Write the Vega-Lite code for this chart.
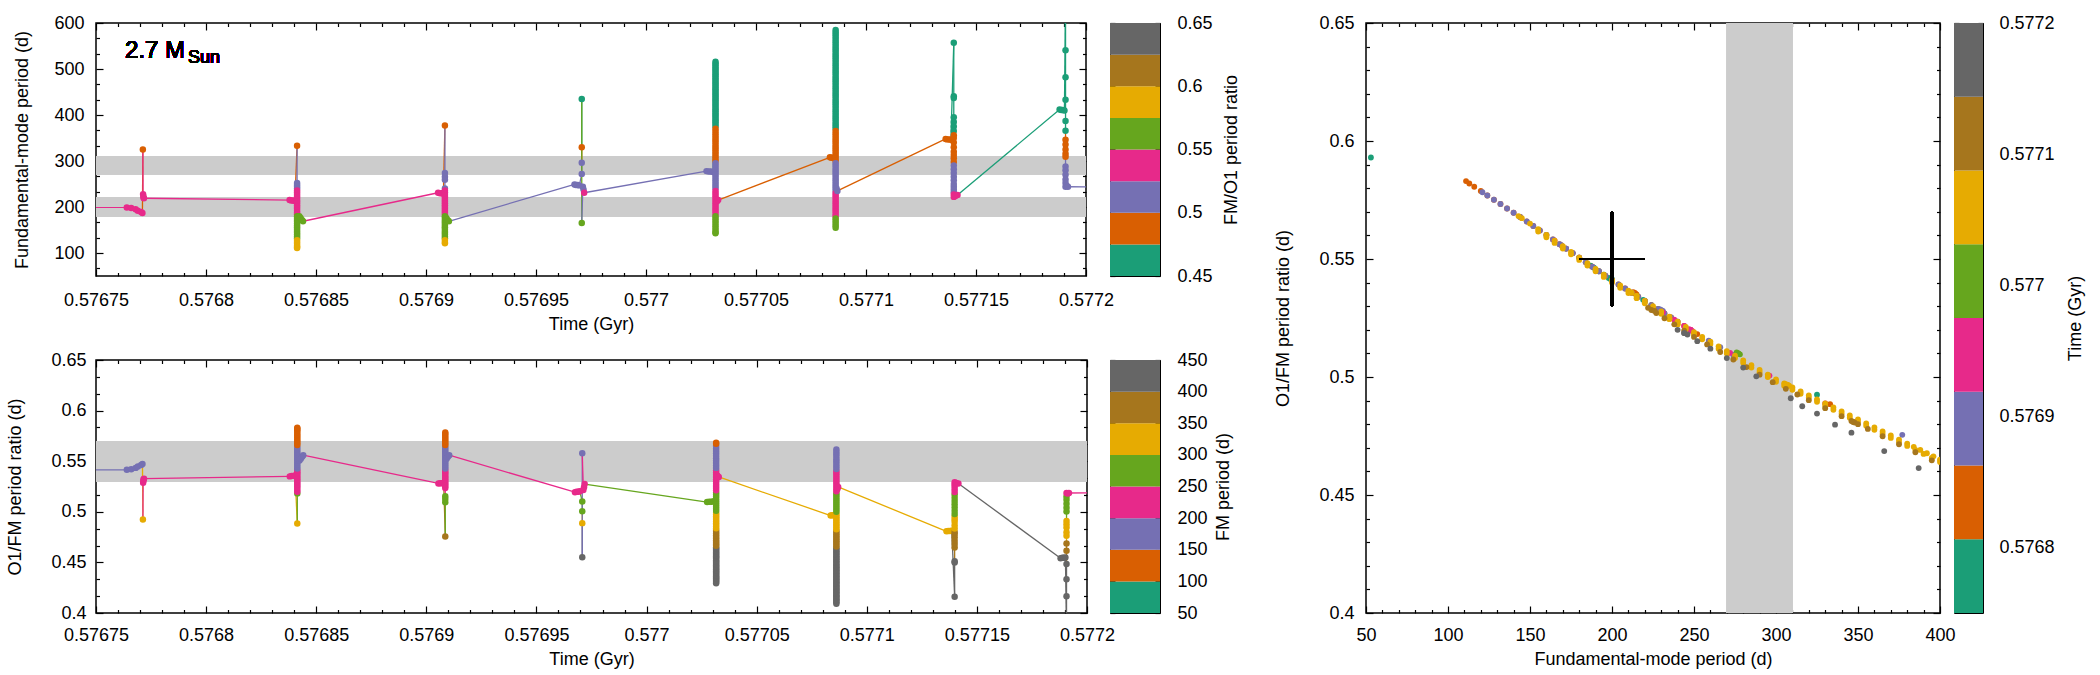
{
  "$schema": "https://vega.github.io/schema/vega-lite/v6.json",
  "background": "white",
  "padding": {"left": 6, "top": 13, "right": 5, "bottom": 2},
  "config": {
    "view": {"stroke": null},
    "font": "Liberation Sans",
    "axis": {
      "labelFont": "Liberation Sans", "labelFontSize": 18, "labelColor": "black",
      "titleFont": "Liberation Sans", "titleFontSize": 18, "titleFontWeight": "normal", "titleColor": "black",
      "tickColor": "black", "tickWidth": 1.2, "tickSize": -7,
      "domain": false, "grid": false, "labelFlush": false, "labelOverlap": false, "format": ".6~g"
    }
  },
  "datasets": {
    "model": [
      {"t":0.57664,"P":53,"r":0.593},{"t":0.57672,"P":200,"r":0.5415},
      {"t":0.576764,"P":199,"r":0.5415},{"t":0.576766,"P":198,"r":0.542},{"t":0.576768,"P":195,"r":0.5434},{"t":0.576769,"P":192,"r":0.5448},{"t":0.5767705,"P":189,"r":0.5463},
      {"t":0.5767711,"P":187,"r":0.5472},{"t":0.5767713,"P":325,"r":0.4925},{"t":0.5767714,"P":228,"r":0.5287},{"t":0.5767715,"P":224,"r":0.5304},{"t":0.5767716,"P":220,"r":0.5322},{"t":0.5767718,"P":219,"r":0.5327},
      {"t":0.576838,"P":215,"r":0.535},{"t":0.5768388,"P":214,"r":0.5355},{"t":0.5768396,"P":214,"r":0.5355},{"t":0.5768404,"P":213,"r":0.5359},
      {"t":0.5768414,"P":333,"r":0.4885},{"t":0.5768414,"P":252,"r":0.5182},{"t":0.5768414,"P":248,"r":0.5199},{"t":0.5768414,"P":244,"r":0.5216},{"t":0.5768414,"P":240,"r":0.5234},{"t":0.5768414,"P":236,"r":0.5252},{"t":0.5768414,"P":232,"r":0.5269},{"t":0.5768414,"P":228,"r":0.5287},{"t":0.5768414,"P":224,"r":0.5304},{"t":0.5768414,"P":220,"r":0.5322},{"t":0.5768414,"P":216,"r":0.534},{"t":0.5768414,"P":212,"r":0.5357},{"t":0.5768414,"P":208,"r":0.5375},{"t":0.5768414,"P":204,"r":0.5392},{"t":0.5768414,"P":200,"r":0.541},{"t":0.5768414,"P":196,"r":0.5429},{"t":0.5768414,"P":192,"r":0.5448},{"t":0.5768414,"P":188,"r":0.5467},{"t":0.5768414,"P":184,"r":0.5486},{"t":0.5768414,"P":180,"r":0.5506},{"t":0.5768414,"P":176,"r":0.5525},{"t":0.5768414,"P":172,"r":0.5544},{"t":0.5768414,"P":168,"r":0.5563},{"t":0.5768414,"P":164,"r":0.5583},{"t":0.5768414,"P":160,"r":0.5602},{"t":0.5768414,"P":156,"r":0.5621},{"t":0.5768414,"P":152,"r":0.564},{"t":0.5768414,"P":148,"r":0.5659},{"t":0.5768414,"P":144,"r":0.5678},{"t":0.5768414,"P":140,"r":0.5696},{"t":0.5768414,"P":136,"r":0.5714},{"t":0.5768414,"P":132,"r":0.5733},{"t":0.5768414,"P":128,"r":0.5751},{"t":0.5768414,"P":124,"r":0.5769},{"t":0.5768414,"P":120,"r":0.5788},{"t":0.5768414,"P":116,"r":0.5806},{"t":0.5768414,"P":113,"r":0.582},{"t":0.5768414,"P":111,"r":0.583},
      {"t":0.5768424,"P":180,"r":0.5506},{"t":0.576843,"P":176,"r":0.5525},{"t":0.5768436,"P":172,"r":0.5544},{"t":0.5768441,"P":169,"r":0.5559},
      {"t":0.5769055,"P":231,"r":0.528},{"t":0.5769063,"P":230,"r":0.5283},{"t":0.5769071,"P":230,"r":0.5283},{"t":0.5769079,"P":229,"r":0.5287},
      {"t":0.5769086,"P":377,"r":0.4755},{"t":0.5769086,"P":274,"r":0.5094},{"t":0.5769086,"P":266,"r":0.5126},{"t":0.5769086,"P":259,"r":0.5154},{"t":0.5769086,"P":240,"r":0.5234},{"t":0.5769086,"P":236,"r":0.5252},{"t":0.5769086,"P":232,"r":0.5269},{"t":0.5769086,"P":228,"r":0.5287},{"t":0.5769086,"P":224,"r":0.5304},{"t":0.5769086,"P":220,"r":0.5322},{"t":0.5769086,"P":216,"r":0.534},{"t":0.5769086,"P":212,"r":0.5357},{"t":0.5769086,"P":208,"r":0.5375},{"t":0.5769086,"P":204,"r":0.5392},{"t":0.5769086,"P":200,"r":0.541},{"t":0.5769086,"P":196,"r":0.5429},{"t":0.5769086,"P":192,"r":0.5448},{"t":0.5769086,"P":188,"r":0.5467},{"t":0.5769086,"P":184,"r":0.5486},{"t":0.5769086,"P":180,"r":0.5506},{"t":0.5769086,"P":176,"r":0.5525},{"t":0.5769086,"P":172,"r":0.5544},{"t":0.5769086,"P":168,"r":0.5563},{"t":0.5769086,"P":164,"r":0.5583},{"t":0.5769086,"P":160,"r":0.5602},{"t":0.5769086,"P":156,"r":0.5621},{"t":0.5769086,"P":152,"r":0.564},{"t":0.5769086,"P":148,"r":0.5659},{"t":0.5769086,"P":144,"r":0.5678},{"t":0.5769086,"P":140,"r":0.5696},{"t":0.5769086,"P":136,"r":0.5714},{"t":0.5769086,"P":132,"r":0.5733},{"t":0.5769086,"P":128,"r":0.5751},{"t":0.5769086,"P":124,"r":0.5769},{"t":0.5769086,"P":121,"r":0.5783},
      {"t":0.5769092,"P":176,"r":0.5525},{"t":0.5769098,"P":172,"r":0.5544},{"t":0.5769104,"P":169,"r":0.5559},
      {"t":0.5769675,"P":249,"r":0.5194},{"t":0.5769682,"P":248,"r":0.5199},{"t":0.576969,"P":248,"r":0.5199},{"t":0.5769697,"P":247,"r":0.5203},
      {"t":0.5769708,"P":272,"r":0.5102},{"t":0.5769708,"P":296,"r":0.5006},{"t":0.5769708,"P":330,"r":0.4888},{"t":0.5769708,"P":435,"r":0.455},{"t":0.5769708,"P":165,"r":0.5578},
      {"t":0.5769713,"P":244,"r":0.5216},{"t":0.5769716,"P":238,"r":0.5243},{"t":0.5769719,"P":231,"r":0.5274},
      {"t":0.5770275,"P":278,"r":0.5096},{"t":0.5770285,"P":277,"r":0.51},{"t":0.5770295,"P":277,"r":0.51},{"t":0.5770305,"P":276,"r":0.5104},
      {"t":0.5770316,"P":516,"r":0.4295},{"t":0.5770316,"P":512,"r":0.4306},{"t":0.5770316,"P":508,"r":0.4318},{"t":0.5770316,"P":504,"r":0.4329},{"t":0.5770316,"P":500,"r":0.434},{"t":0.5770316,"P":496,"r":0.4352},{"t":0.5770316,"P":492,"r":0.4364},{"t":0.5770316,"P":488,"r":0.4376},{"t":0.5770316,"P":484,"r":0.4388},{"t":0.5770316,"P":480,"r":0.44},{"t":0.5770316,"P":476,"r":0.4412},{"t":0.5770316,"P":472,"r":0.4424},{"t":0.5770316,"P":468,"r":0.4436},{"t":0.5770316,"P":464,"r":0.4448},{"t":0.5770316,"P":460,"r":0.446},{"t":0.5770316,"P":456,"r":0.4472},{"t":0.5770316,"P":452,"r":0.4484},{"t":0.5770316,"P":448,"r":0.4496},{"t":0.5770316,"P":444,"r":0.4509},{"t":0.5770316,"P":440,"r":0.4522},{"t":0.5770316,"P":436,"r":0.4535},{"t":0.5770316,"P":432,"r":0.4548},{"t":0.5770316,"P":428,"r":0.456},{"t":0.5770316,"P":424,"r":0.4573},{"t":0.5770316,"P":420,"r":0.4586},{"t":0.5770316,"P":416,"r":0.4599},{"t":0.5770316,"P":412,"r":0.4612},{"t":0.5770316,"P":408,"r":0.4624},{"t":0.5770316,"P":404,"r":0.4637},{"t":0.5770316,"P":400,"r":0.465},{"t":0.5770316,"P":396,"r":0.4664},{"t":0.5770316,"P":392,"r":0.4677},{"t":0.5770316,"P":388,"r":0.4691},{"t":0.5770316,"P":384,"r":0.4704},{"t":0.5770316,"P":380,"r":0.4718},
      {"t":0.5770316,"P":375,"r":0.4735},{"t":0.5770316,"P":370,"r":0.4752},{"t":0.5770316,"P":365,"r":0.4769},{"t":0.5770316,"P":360,"r":0.4786},{"t":0.5770316,"P":355,"r":0.4803},{"t":0.5770316,"P":350,"r":0.482},{"t":0.5770316,"P":345,"r":0.4837},{"t":0.5770316,"P":340,"r":0.4854},{"t":0.5770316,"P":335,"r":0.4871},{"t":0.5770316,"P":330,"r":0.4888},{"t":0.5770316,"P":325,"r":0.4905},{"t":0.5770316,"P":320,"r":0.4922},{"t":0.5770316,"P":315,"r":0.4939},{"t":0.5770316,"P":310,"r":0.4956},{"t":0.5770316,"P":305,"r":0.4973},{"t":0.5770316,"P":300,"r":0.499},{"t":0.5770316,"P":295,"r":0.501},{"t":0.5770316,"P":290,"r":0.503},{"t":0.5770316,"P":285,"r":0.505},{"t":0.5770316,"P":280,"r":0.507},{"t":0.5770316,"P":275,"r":0.509},{"t":0.5770316,"P":270,"r":0.511},{"t":0.5770316,"P":265,"r":0.513},{"t":0.5770316,"P":260,"r":0.515},{"t":0.5770316,"P":255,"r":0.517},{"t":0.5770316,"P":250,"r":0.519},{"t":0.5770316,"P":245,"r":0.5212},{"t":0.5770316,"P":240,"r":0.5234},{"t":0.5770316,"P":235,"r":0.5256},{"t":0.5770316,"P":230,"r":0.5278},{"t":0.5770316,"P":225,"r":0.53},{"t":0.5770316,"P":220,"r":0.5322},{"t":0.5770316,"P":215,"r":0.5344},{"t":0.5770316,"P":210,"r":0.5366},{"t":0.5770316,"P":205,"r":0.5388},{"t":0.5770316,"P":200,"r":0.541},{"t":0.5770316,"P":195,"r":0.5434},{"t":0.5770316,"P":190,"r":0.5458},{"t":0.5770316,"P":185,"r":0.5482},{"t":0.5770316,"P":180,"r":0.5506},{"t":0.5770316,"P":175,"r":0.553},{"t":0.5770316,"P":170,"r":0.5554},{"t":0.5770316,"P":165,"r":0.5578},{"t":0.5770316,"P":160,"r":0.5602},{"t":0.5770316,"P":155,"r":0.5626},{"t":0.5770316,"P":150,"r":0.565},{"t":0.5770316,"P":145,"r":0.5673},{"t":0.5770316,"P":143,"r":0.5682},
      {"t":0.5770322,"P":212,"r":0.5357},{"t":0.5770328,"P":215,"r":0.5344},
      {"t":0.5770836,"P":308,"r":0.4963},{"t":0.5770843,"P":307,"r":0.4966},{"t":0.577085,"P":307,"r":0.4966},{"t":0.5770856,"P":306,"r":0.497},
      {"t":0.5770862,"P":585,"r":0.4092},{"t":0.5770862,"P":580,"r":0.4106},{"t":0.5770862,"P":575,"r":0.412},{"t":0.5770862,"P":570,"r":0.4134},{"t":0.5770862,"P":565,"r":0.4148},{"t":0.5770862,"P":560,"r":0.4162},{"t":0.5770862,"P":555,"r":0.4176},{"t":0.5770862,"P":550,"r":0.419},{"t":0.5770862,"P":545,"r":0.4204},{"t":0.5770862,"P":540,"r":0.4218},{"t":0.5770862,"P":535,"r":0.4232},{"t":0.5770862,"P":530,"r":0.4246},{"t":0.5770862,"P":525,"r":0.426},{"t":0.5770862,"P":520,"r":0.4274},{"t":0.5770862,"P":515,"r":0.4288},{"t":0.5770862,"P":510,"r":0.4302},{"t":0.5770862,"P":505,"r":0.4316},{"t":0.5770862,"P":500,"r":0.433},{"t":0.5770862,"P":495,"r":0.4345},{"t":0.5770862,"P":490,"r":0.436},{"t":0.5770862,"P":485,"r":0.4375},{"t":0.5770862,"P":480,"r":0.439},{"t":0.5770862,"P":475,"r":0.4405},{"t":0.5770862,"P":470,"r":0.442},{"t":0.5770862,"P":465,"r":0.4435},{"t":0.5770862,"P":460,"r":0.445},{"t":0.5770862,"P":455,"r":0.4465},{"t":0.5770862,"P":450,"r":0.448},{"t":0.5770862,"P":445,"r":0.4496},{"t":0.5770862,"P":440,"r":0.4512},{"t":0.5770862,"P":435,"r":0.4528},{"t":0.5770862,"P":430,"r":0.4544},{"t":0.5770862,"P":425,"r":0.456},{"t":0.5770862,"P":420,"r":0.4576},{"t":0.5770862,"P":415,"r":0.4592},{"t":0.5770862,"P":410,"r":0.4608},{"t":0.5770862,"P":405,"r":0.4624},{"t":0.5770862,"P":400,"r":0.464},{"t":0.5770862,"P":395,"r":0.4657},{"t":0.5770862,"P":390,"r":0.4674},{"t":0.5770862,"P":385,"r":0.4691},
      {"t":0.5770862,"P":380,"r":0.4708},{"t":0.5770862,"P":375,"r":0.4725},{"t":0.5770862,"P":370,"r":0.4742},{"t":0.5770862,"P":365,"r":0.4759},{"t":0.5770862,"P":360,"r":0.4776},{"t":0.5770862,"P":355,"r":0.4793},{"t":0.5770862,"P":350,"r":0.481},{"t":0.5770862,"P":345,"r":0.4827},{"t":0.5770862,"P":340,"r":0.4844},{"t":0.5770862,"P":335,"r":0.4861},{"t":0.5770862,"P":330,"r":0.4878},{"t":0.5770862,"P":325,"r":0.4895},{"t":0.5770862,"P":320,"r":0.4912},{"t":0.5770862,"P":315,"r":0.4929},{"t":0.5770862,"P":310,"r":0.4946},{"t":0.5770862,"P":305,"r":0.4963},{"t":0.5770862,"P":300,"r":0.498},{"t":0.5770862,"P":295,"r":0.5},{"t":0.5770862,"P":290,"r":0.502},{"t":0.5770862,"P":285,"r":0.504},{"t":0.5770862,"P":280,"r":0.506},{"t":0.5770862,"P":275,"r":0.508},{"t":0.5770862,"P":270,"r":0.51},{"t":0.5770862,"P":265,"r":0.512},{"t":0.5770862,"P":260,"r":0.514},{"t":0.5770862,"P":255,"r":0.516},{"t":0.5770862,"P":250,"r":0.518},{"t":0.5770862,"P":245,"r":0.5202},{"t":0.5770862,"P":240,"r":0.5224},{"t":0.5770862,"P":235,"r":0.5246},{"t":0.5770862,"P":230,"r":0.5268},{"t":0.5770862,"P":225,"r":0.529},{"t":0.5770862,"P":220,"r":0.5312},{"t":0.5770862,"P":215,"r":0.5334},{"t":0.5770862,"P":210,"r":0.5356},{"t":0.5770862,"P":205,"r":0.5378},{"t":0.5770862,"P":200,"r":0.54},{"t":0.5770862,"P":195,"r":0.5424},{"t":0.5770862,"P":190,"r":0.5448},{"t":0.5770862,"P":185,"r":0.5472},{"t":0.5770862,"P":180,"r":0.5496},{"t":0.5770862,"P":175,"r":0.552},{"t":0.5770862,"P":170,"r":0.5544},{"t":0.5770862,"P":165,"r":0.5568},{"t":0.5770862,"P":160,"r":0.5592},{"t":0.5770862,"P":155,"r":0.5616},
      {"t":0.5770866,"P":240,"r":0.5224},{"t":0.577087,"P":235,"r":0.5246},
      {"t":0.5771362,"P":348,"r":0.4807},{"t":0.577137,"P":347,"r":0.481},{"t":0.5771378,"P":347,"r":0.481},{"t":0.5771386,"P":346,"r":0.4814},
      {"t":0.5771399,"P":557,"r":0.416},{"t":0.5771399,"P":441,"r":0.4499},{"t":0.5771399,"P":437,"r":0.4512},{"t":0.5771399,"P":395,"r":0.4647},{"t":0.5771399,"P":385,"r":0.4681},{"t":0.5771399,"P":375,"r":0.4715},{"t":0.5771399,"P":365,"r":0.4749},{"t":0.5771399,"P":356,"r":0.478},{"t":0.5771399,"P":350,"r":0.48},{"t":0.5771399,"P":340,"r":0.4834},{"t":0.5771399,"P":330,"r":0.4868},{"t":0.5771399,"P":320,"r":0.4902},{"t":0.5771399,"P":313,"r":0.4926},{"t":0.5771399,"P":306,"r":0.495},{"t":0.5771399,"P":298,"r":0.4978},{"t":0.5771399,"P":290,"r":0.501},{"t":0.5771399,"P":282,"r":0.5042},{"t":0.5771399,"P":274,"r":0.5074},{"t":0.5771399,"P":266,"r":0.5106},{"t":0.5771399,"P":258,"r":0.5138},{"t":0.5771399,"P":250,"r":0.517},{"t":0.5771399,"P":244,"r":0.5196},{"t":0.5771399,"P":238,"r":0.5223},{"t":0.5771399,"P":232,"r":0.5249},{"t":0.5771399,"P":227,"r":0.5271},{"t":0.5771399,"P":222,"r":0.5293},
      {"t":0.5771406,"P":224,"r":0.5284},{"t":0.5771416,"P":226,"r":0.528},
      {"t":0.577188,"P":412,"r":0.4541},{"t":0.5771888,"P":411,"r":0.4545},{"t":0.5771895,"P":411,"r":0.4545},{"t":0.5771902,"P":410,"r":0.4548},
      {"t":0.5771907,"P":660,"r":0.3832},{"t":0.5771907,"P":541,"r":0.4165},{"t":0.5771907,"P":482,"r":0.4334},{"t":0.5771907,"P":433,"r":0.4484},{"t":0.5771907,"P":387,"r":0.4614},{"t":0.5771907,"P":366,"r":0.4686},{"t":0.5771907,"P":346,"r":0.4764},{"t":0.5771907,"P":336,"r":0.4798},{"t":0.5771907,"P":325,"r":0.4845},{"t":0.5771907,"P":316,"r":0.4876},{"t":0.5771907,"P":309,"r":0.491},{"t":0.5771907,"P":288,"r":0.5003},{"t":0.5771907,"P":280,"r":0.504},{"t":0.5771907,"P":270,"r":0.508},{"t":0.5771907,"P":260,"r":0.512},{"t":0.5771907,"P":252,"r":0.5152},{"t":0.5771907,"P":244,"r":0.5186},
      {"t":0.5771912,"P":246,"r":0.518},{"t":0.5771918,"P":244,"r":0.5186},{"t":0.5773,"P":240,"r":0.52}
    ],
    "cbRatio": [
      {"lo":0.45,"hi":0.475,"k":0},{"lo":0.475,"hi":0.5,"k":1},{"lo":0.5,"hi":0.525,"k":2},{"lo":0.525,"hi":0.55,"k":3},
      {"lo":0.55,"hi":0.575,"k":4},{"lo":0.575,"hi":0.6,"k":5},{"lo":0.6,"hi":0.625,"k":6},{"lo":0.625,"hi":0.65,"k":7}
    ],
    "cbPeriod": [
      {"lo":50,"hi":100,"k":0},{"lo":100,"hi":150,"k":1},{"lo":150,"hi":200,"k":2},{"lo":200,"hi":250,"k":3},
      {"lo":250,"hi":300,"k":4},{"lo":300,"hi":350,"k":5},{"lo":350,"hi":400,"k":6},{"lo":400,"hi":450,"k":7}
    ],
    "cbTime": [
      {"lo":0.57675,"hi":0.57680625,"k":0},{"lo":0.57680625,"hi":0.5768625,"k":1},{"lo":0.5768625,"hi":0.57691875,"k":2},{"lo":0.57691875,"hi":0.576975,"k":3},
      {"lo":0.576975,"hi":0.57703125,"k":4},{"lo":0.57703125,"hi":0.5770875,"k":5},{"lo":0.5770875,"hi":0.57714375,"k":6},{"lo":0.57714375,"hi":0.5772,"k":7}
    ]
  },
  "spacing": 33,
  "resolve": {"scale": {"color": "independent"}},
  "hconcat": [
    {
      "spacing": 16,
      "resolve": {"scale": {"color": "independent"}},
      "vconcat": [
        {
          "spacing": 24,
          "bounds": "flush",
          "resolve": {"scale": {"color": "independent"}},
          "hconcat": [
            {
              "width": 990, "height": 253,
              "view": {"stroke": "black", "strokeWidth": 1.5},
              "data": {"name": "model"},
              "layer": [
                {"mark": {"type": "rect", "color": "#cccccc"},
                 "encoding": {"x": {"datum": 0.57675, "type": "quantitative", "axis": null}, "x2": {"datum": 0.5772},
                              "y": {"datum": 270, "type": "quantitative", "scale": {"domain": [50, 600], "nice": false, "zero": false}, "axis": null}, "y2": {"datum": 310}}},
                {"mark": {"type": "rect", "color": "#cccccc"},
                 "encoding": {"x": {"datum": 0.57675, "type": "quantitative", "axis": null}, "x2": {"datum": 0.5772},
                              "y": {"datum": 180, "type": "quantitative", "axis": null}, "y2": {"datum": 220}}},
                {"transform": [{"window": [{"op": "lag", "field": "t", "as": "t0"}, {"op": "lag", "field": "P", "as": "P0"}]}, {"filter": "datum.t0 != null"}],
                 "mark": {"type": "rule", "strokeWidth": 1.3, "clip": true},
                 "encoding": {
                   "x": {"field": "t0", "type": "quantitative", "scale": {"domain": [0.57675, 0.5772], "nice": false, "zero": false},
                         "axis": {"orient": "bottom", "title": "Time (Gyr)", "labelPadding": 22, "titlePadding": 6,
                                  "values": [0.57675,0.57676,0.57677,0.57678,0.57679,0.5768,0.57681,0.57682,0.57683,0.57684,0.57685,0.57686,0.57687,0.57688,0.57689,0.5769,0.57691,0.57692,0.57693,0.57694,0.57695,0.57696,0.57697,0.57698,0.57699,0.577,0.57701,0.57702,0.57703,0.57704,0.57705,0.57706,0.57707,0.57708,0.57709,0.5771,0.57711,0.57712,0.57713,0.57714,0.57715,0.57716,0.57717,0.57718,0.57719,0.5772],
                                  "labelExpr": "abs(datum.value*20000-round(datum.value*20000))<0.01 ? datum.label : ''",
                                  "encoding": {"ticks": {"y2": {"condition": {"test": "abs(datum.value*20000-round(datum.value*20000))<0.01", "value": -7}, "value": -3.5}}}}},
                   "x2": {"field": "t"},
                   "y": {"field": "P0", "type": "quantitative",
                         "axis": {"orient": "left", "title": "Fundamental-mode period (d)", "labelPadding": 19, "titlePadding": 22,
                                  "values": [66.667,100,133.333,166.667,200,233.333,266.667,300,333.333,366.667,400,433.333,466.667,500,533.333,566.667,600],
                                  "labelExpr": "abs(datum.value/100-round(datum.value/100))<0.001 ? datum.label : ''",
                                  "encoding": {"ticks": {"x2": {"condition": {"test": "abs(datum.value/100-round(datum.value/100))<0.001", "value": 7}, "value": 3.5}}}}},
                   "y2": {"field": "P"},
                   "color": {"field": "r", "type": "quantitative", "legend": null,
                             "scale": {"type": "threshold", "domain": [0.475,0.5,0.525,0.55,0.575,0.6,0.625], "range": ["#1b9e77","#d95f02","#7570b3","#e7298a","#66a61e","#e6ab02","#a6761d","#666666"]}}
                 }},
                {"mark": {"type": "circle", "size": 42, "opacity": 1, "clip": true},
                 "encoding": {
                   "x": {"field": "t", "type": "quantitative",
                         "axis": {"orient": "top", "title": null, "labels": false,
                                  "values": [0.57675,0.57676,0.57677,0.57678,0.57679,0.5768,0.57681,0.57682,0.57683,0.57684,0.57685,0.57686,0.57687,0.57688,0.57689,0.5769,0.57691,0.57692,0.57693,0.57694,0.57695,0.57696,0.57697,0.57698,0.57699,0.577,0.57701,0.57702,0.57703,0.57704,0.57705,0.57706,0.57707,0.57708,0.57709,0.5771,0.57711,0.57712,0.57713,0.57714,0.57715,0.57716,0.57717,0.57718,0.57719,0.5772],
                                  "encoding": {"ticks": {"y2": {"condition": {"test": "abs(datum.value*20000-round(datum.value*20000))<0.01", "value": 7}, "value": 3.5}}}}},
                   "y": {"field": "P", "type": "quantitative",
                         "axis": {"orient": "right", "title": null, "labels": false,
                                  "values": [66.667,100,133.333,166.667,200,233.333,266.667,300,333.333,366.667,400,433.333,466.667,500,533.333,566.667,600],
                                  "encoding": {"ticks": {"x2": {"condition": {"test": "abs(datum.value/100-round(datum.value/100))<0.001", "value": -7}, "value": -3.5}}}}},
                   "color": {"field": "r", "type": "quantitative", "legend": null,
                             "scale": {"type": "threshold", "domain": [0.475,0.5,0.525,0.55,0.575,0.6,0.625], "range": ["#1b9e77","#d95f02","#7570b3","#e7298a","#66a61e","#e6ab02","#a6761d","#666666"]}}
                 }},
                {"mark": {"type": "text", "text": "2.7 M", "align": "left", "baseline": "alphabetic", "fontSize": 24, "font": "Liberation Sans", "color": "black"},
                 "encoding": {"x": {"datum": 0.5767632, "type": "quantitative", "axis": null}, "y": {"datum": 523, "type": "quantitative", "axis": null}}},
                {"mark": {"type": "text", "text": "Sun", "align": "left", "baseline": "alphabetic", "fontSize": 18, "font": "Liberation Sans", "color": "black"},
                 "encoding": {"x": {"datum": 0.5767918, "type": "quantitative", "axis": null}, "y": {"datum": 512, "type": "quantitative", "axis": null}}}
              ],
              "resolve": {"axis": {"x": "independent", "y": "independent"}}
            },
            {
              "width": 50, "height": 253,
              "view": {"stroke": "black", "strokeWidth": 1},
              "data": {"name": "cbRatio"},
              "layer": [
                {"mark": "rect",
                 "encoding": {
                   "x": {"datum": 0, "type": "quantitative", "scale": {"domain": [0, 1], "nice": false, "zero": false}, "axis": null}, "x2": {"datum": 1},
                   "y": {"field": "lo", "type": "quantitative", "scale": {"domain": [0.45, 0.65], "nice": false, "zero": false},
                         "axis": {"orient": "right", "values": [0.45,0.5,0.55,0.6,0.65], "tickSize": -5, "labelPadding": 22,
                                  "title": "FM/O1 period ratio", "titleAngle": 270, "titleBaseline": "top", "titlePadding": 10}},
                   "y2": {"field": "hi"},
                   "color": {"field": "k", "type": "ordinal", "legend": null, "scale": {"domain": [0,1,2,3,4,5,6,7], "range": ["#1b9e77","#d95f02","#7570b3","#e7298a","#66a61e","#e6ab02","#a6761d","#666666"]}}
                 }},
                {"mark": {"type": "rect", "opacity": 0},
                 "encoding": {
                   "x": {"datum": 0, "type": "quantitative", "axis": null}, "x2": {"datum": 1},
                   "y": {"field": "lo", "type": "quantitative",
                         "axis": {"orient": "left", "values": [0.45,0.5,0.55,0.6,0.65], "tickSize": -5, "labels": false, "title": null}},
                   "y2": {"field": "hi"}
                 }}
              ],
              "resolve": {"axis": {"y": "independent"}}
            }
          ]
        },
        {
          "spacing": 23,
          "bounds": "flush",
          "resolve": {"scale": {"color": "independent"}},
          "hconcat": [
            {
              "width": 991, "height": 253,
              "view": {"stroke": "black", "strokeWidth": 1.5},
              "data": {"name": "model"},
              "layer": [
                {"mark": {"type": "rect", "color": "#cccccc"},
                 "encoding": {"x": {"datum": 0.57675, "type": "quantitative", "axis": null}, "x2": {"datum": 0.5772},
                              "y": {"datum": 0.53, "type": "quantitative", "scale": {"domain": [0.4, 0.65], "nice": false, "zero": false}, "axis": null}, "y2": {"datum": 0.57}}},
                {"transform": [{"window": [{"op": "lag", "field": "t", "as": "t0"}, {"op": "lag", "field": "r", "as": "r0"}]}, {"filter": "datum.t0 != null"}],
                 "mark": {"type": "rule", "strokeWidth": 1.3, "clip": true},
                 "encoding": {
                   "x": {"field": "t0", "type": "quantitative", "scale": {"domain": [0.57675, 0.5772], "nice": false, "zero": false},
                         "axis": {"orient": "bottom", "title": "Time (Gyr)", "labelPadding": 20, "titlePadding": 6,
                                  "values": [0.57675,0.57676,0.57677,0.57678,0.57679,0.5768,0.57681,0.57682,0.57683,0.57684,0.57685,0.57686,0.57687,0.57688,0.57689,0.5769,0.57691,0.57692,0.57693,0.57694,0.57695,0.57696,0.57697,0.57698,0.57699,0.577,0.57701,0.57702,0.57703,0.57704,0.57705,0.57706,0.57707,0.57708,0.57709,0.5771,0.57711,0.57712,0.57713,0.57714,0.57715,0.57716,0.57717,0.57718,0.57719,0.5772],
                                  "labelExpr": "abs(datum.value*20000-round(datum.value*20000))<0.01 ? datum.label : ''",
                                  "encoding": {"ticks": {"y2": {"condition": {"test": "abs(datum.value*20000-round(datum.value*20000))<0.01", "value": -7}, "value": -3.5}}}}},
                   "x2": {"field": "t"},
                   "y": {"field": "r0", "type": "quantitative",
                         "axis": {"orient": "left", "title": "O1/FM period ratio (d)", "labelPadding": 17, "titlePadding": 26,
                                  "values": [0.4,0.41667,0.43333,0.45,0.46667,0.48333,0.5,0.51667,0.53333,0.55,0.56667,0.58333,0.6,0.61667,0.63333,0.65],
                                  "labelExpr": "abs(datum.value*20-round(datum.value*20))<0.001 ? datum.label : ''",
                                  "encoding": {"ticks": {"x2": {"condition": {"test": "abs(datum.value*20-round(datum.value*20))<0.001", "value": 7}, "value": 3.5}}}}},
                   "y2": {"field": "r"},
                   "color": {"field": "P", "type": "quantitative", "legend": null,
                             "scale": {"type": "threshold", "domain": [100,150,200,250,300,350,400], "range": ["#1b9e77","#d95f02","#7570b3","#e7298a","#66a61e","#e6ab02","#a6761d","#666666"]}}
                 }},
                {"mark": {"type": "circle", "size": 42, "opacity": 1, "clip": true},
                 "encoding": {
                   "x": {"field": "t", "type": "quantitative",
                         "axis": {"orient": "top", "title": null, "labels": false,
                                  "values": [0.57675,0.57676,0.57677,0.57678,0.57679,0.5768,0.57681,0.57682,0.57683,0.57684,0.57685,0.57686,0.57687,0.57688,0.57689,0.5769,0.57691,0.57692,0.57693,0.57694,0.57695,0.57696,0.57697,0.57698,0.57699,0.577,0.57701,0.57702,0.57703,0.57704,0.57705,0.57706,0.57707,0.57708,0.57709,0.5771,0.57711,0.57712,0.57713,0.57714,0.57715,0.57716,0.57717,0.57718,0.57719,0.5772],
                                  "encoding": {"ticks": {"y2": {"condition": {"test": "abs(datum.value*20000-round(datum.value*20000))<0.01", "value": 7}, "value": 3.5}}}}},
                   "y": {"field": "r", "type": "quantitative",
                         "axis": {"orient": "right", "title": null, "labels": false,
                                  "values": [0.4,0.41667,0.43333,0.45,0.46667,0.48333,0.5,0.51667,0.53333,0.55,0.56667,0.58333,0.6,0.61667,0.63333,0.65],
                                  "encoding": {"ticks": {"x2": {"condition": {"test": "abs(datum.value*20-round(datum.value*20))<0.001", "value": -7}, "value": -3.5}}}}},
                   "color": {"field": "P", "type": "quantitative", "legend": null,
                             "scale": {"type": "threshold", "domain": [100,150,200,250,300,350,400], "range": ["#1b9e77","#d95f02","#7570b3","#e7298a","#66a61e","#e6ab02","#a6761d","#666666"]}}
                 }}
              ],
              "resolve": {"axis": {"x": "independent", "y": "independent"}}
            },
            {
              "width": 50, "height": 253,
              "view": {"stroke": "black", "strokeWidth": 1},
              "data": {"name": "cbPeriod"},
              "layer": [
                {"mark": "rect",
                 "encoding": {
                   "x": {"datum": 0, "type": "quantitative", "scale": {"domain": [0, 1], "nice": false, "zero": false}, "axis": null}, "x2": {"datum": 1},
                   "y": {"field": "lo", "type": "quantitative", "scale": {"domain": [50, 450], "nice": false, "zero": false},
                         "axis": {"orient": "right", "values": [50,100,150,200,250,300,350,400,450], "tickSize": -5, "labelPadding": 22,
                                  "title": "FM period (d)", "titleAngle": 270, "titleBaseline": "top", "titlePadding": 7}},
                   "y2": {"field": "hi"},
                   "color": {"field": "k", "type": "ordinal", "legend": null, "scale": {"domain": [0,1,2,3,4,5,6,7], "range": ["#1b9e77","#d95f02","#7570b3","#e7298a","#66a61e","#e6ab02","#a6761d","#666666"]}}
                 }},
                {"mark": {"type": "rect", "opacity": 0},
                 "encoding": {
                   "x": {"datum": 0, "type": "quantitative", "axis": null}, "x2": {"datum": 1},
                   "y": {"field": "lo", "type": "quantitative",
                         "axis": {"orient": "left", "values": [50,100,150,200,250,300,350,400,450], "tickSize": -5, "labels": false, "title": null}},
                   "y2": {"field": "hi"}
                 }}
              ],
              "resolve": {"axis": {"y": "independent"}}
            }
          ]
        }
      ]
    },
    {
      "spacing": 14,
      "bounds": "flush",
      "resolve": {"scale": {"color": "independent"}},
      "hconcat": [
        {
          "width": 574, "height": 590,
          "view": {"stroke": "black", "strokeWidth": 1.5},
          "data": {"name": "model"},
          "layer": [
            {"mark": {"type": "rect", "color": "#cccccc"},
             "encoding": {"x": {"datum": 270, "type": "quantitative", "scale": {"domain": [50, 400], "nice": false, "zero": false}, "axis": null}, "x2": {"datum": 310},
                          "y": {"datum": 0.4, "type": "quantitative", "scale": {"domain": [0.4, 0.65], "nice": false, "zero": false}, "axis": null}, "y2": {"datum": 0.65}}},
            {"mark": {"type": "circle", "size": 34, "opacity": 1, "clip": true},
             "encoding": {
               "x": {"field": "P", "type": "quantitative",
                     "axis": {"orient": "bottom", "title": "Fundamental-mode period (d)", "labelPadding": 20, "titlePadding": 6,
                              "values": [50,60,70,80,90,100,110,120,130,140,150,160,170,180,190,200,210,220,230,240,250,260,270,280,290,300,310,320,330,340,350,360,370,380,390,400],
                              "labelExpr": "abs(datum.value/50-round(datum.value/50))<0.001 ? datum.label : ''",
                              "encoding": {"ticks": {"y2": {"condition": {"test": "abs(datum.value/50-round(datum.value/50))<0.001", "value": -7}, "value": -3.5}}}}},
               "y": {"field": "r", "type": "quantitative",
                     "axis": {"orient": "left", "title": "O1/FM period ratio (d)", "labelPadding": 19, "titlePadding": 26,
                              "values": [0.4,0.41,0.42,0.43,0.44,0.45,0.46,0.47,0.48,0.49,0.5,0.51,0.52,0.53,0.54,0.55,0.56,0.57,0.58,0.59,0.6,0.61,0.62,0.63,0.64,0.65],
                              "labelExpr": "abs(datum.value*20-round(datum.value*20))<0.001 ? datum.label : ''",
                              "encoding": {"ticks": {"x2": {"condition": {"test": "abs(datum.value*20-round(datum.value*20))<0.001", "value": 7}, "value": 3.5}}}}},
               "color": {"field": "t", "type": "quantitative", "legend": null,
                         "scale": {"type": "threshold", "domain": [0.57680625,0.5768625,0.57691875,0.576975,0.57703125,0.5770875,0.57714375], "range": ["#1b9e77","#d95f02","#7570b3","#e7298a","#66a61e","#e6ab02","#a6761d","#666666"]}}
             }},
            {"mark": {"type": "circle", "size": 34, "opacity": 0, "clip": true},
             "encoding": {
               "x": {"field": "P", "type": "quantitative",
                     "axis": {"orient": "top", "title": null, "labels": false,
                              "values": [50,60,70,80,90,100,110,120,130,140,150,160,170,180,190,200,210,220,230,240,250,260,270,280,290,300,310,320,330,340,350,360,370,380,390,400],
                              "encoding": {"ticks": {"y2": {"condition": {"test": "abs(datum.value/50-round(datum.value/50))<0.001", "value": 7}, "value": 3.5}}}}},
               "y": {"field": "r", "type": "quantitative",
                     "axis": {"orient": "right", "title": null, "labels": false,
                              "values": [0.4,0.41,0.42,0.43,0.44,0.45,0.46,0.47,0.48,0.49,0.5,0.51,0.52,0.53,0.54,0.55,0.56,0.57,0.58,0.59,0.6,0.61,0.62,0.63,0.64,0.65],
                              "encoding": {"ticks": {"x2": {"condition": {"test": "abs(datum.value*20-round(datum.value*20))<0.001", "value": -7}, "value": -3.5}}}}}
             }},
            {"mark": {"type": "rule", "color": "black", "strokeWidth": 2.2},
             "encoding": {"x": {"datum": 180, "type": "quantitative", "axis": null}, "x2": {"datum": 220}, "y": {"datum": 0.55, "type": "quantitative", "axis": null}}},
            {"mark": {"type": "rule", "color": "black", "strokeWidth": 2.2},
             "encoding": {"x": {"datum": 200, "type": "quantitative", "axis": null}, "y": {"datum": 0.53, "type": "quantitative", "axis": null}, "y2": {"datum": 0.57}}}
          ],
          "resolve": {"axis": {"x": "independent", "y": "independent"}}
        },
        {
          "width": 29, "height": 590,
          "view": {"stroke": "black", "strokeWidth": 1},
          "data": {"name": "cbTime"},
          "layer": [
            {"mark": "rect",
             "encoding": {
               "x": {"datum": 0, "type": "quantitative", "scale": {"domain": [0, 1], "nice": false, "zero": false}, "axis": null}, "x2": {"datum": 1},
               "y": {"field": "lo", "type": "quantitative", "scale": {"domain": [0.57675, 0.5772], "nice": false, "zero": false},
                     "axis": {"orient": "right", "values": [0.5768,0.5769,0.577,0.5771,0.5772], "tickSize": -5, "labelPadding": 21,
                              "title": "Time (Gyr)", "titleAngle": 270, "titleBaseline": "top", "titlePadding": 12}},
               "y2": {"field": "hi"},
               "color": {"field": "k", "type": "ordinal", "legend": null, "scale": {"domain": [0,1,2,3,4,5,6,7], "range": ["#1b9e77","#d95f02","#7570b3","#e7298a","#66a61e","#e6ab02","#a6761d","#666666"]}}
             }},
            {"mark": {"type": "rect", "opacity": 0},
             "encoding": {
               "x": {"datum": 0, "type": "quantitative", "axis": null}, "x2": {"datum": 1},
               "y": {"field": "lo", "type": "quantitative",
                     "axis": {"orient": "left", "values": [0.5768,0.5769,0.577,0.5771,0.5772], "tickSize": -5, "labels": false, "title": null}},
               "y2": {"field": "hi"}
             }}
          ],
          "resolve": {"axis": {"y": "independent"}}
        }
      ]
    }
  ]
}
